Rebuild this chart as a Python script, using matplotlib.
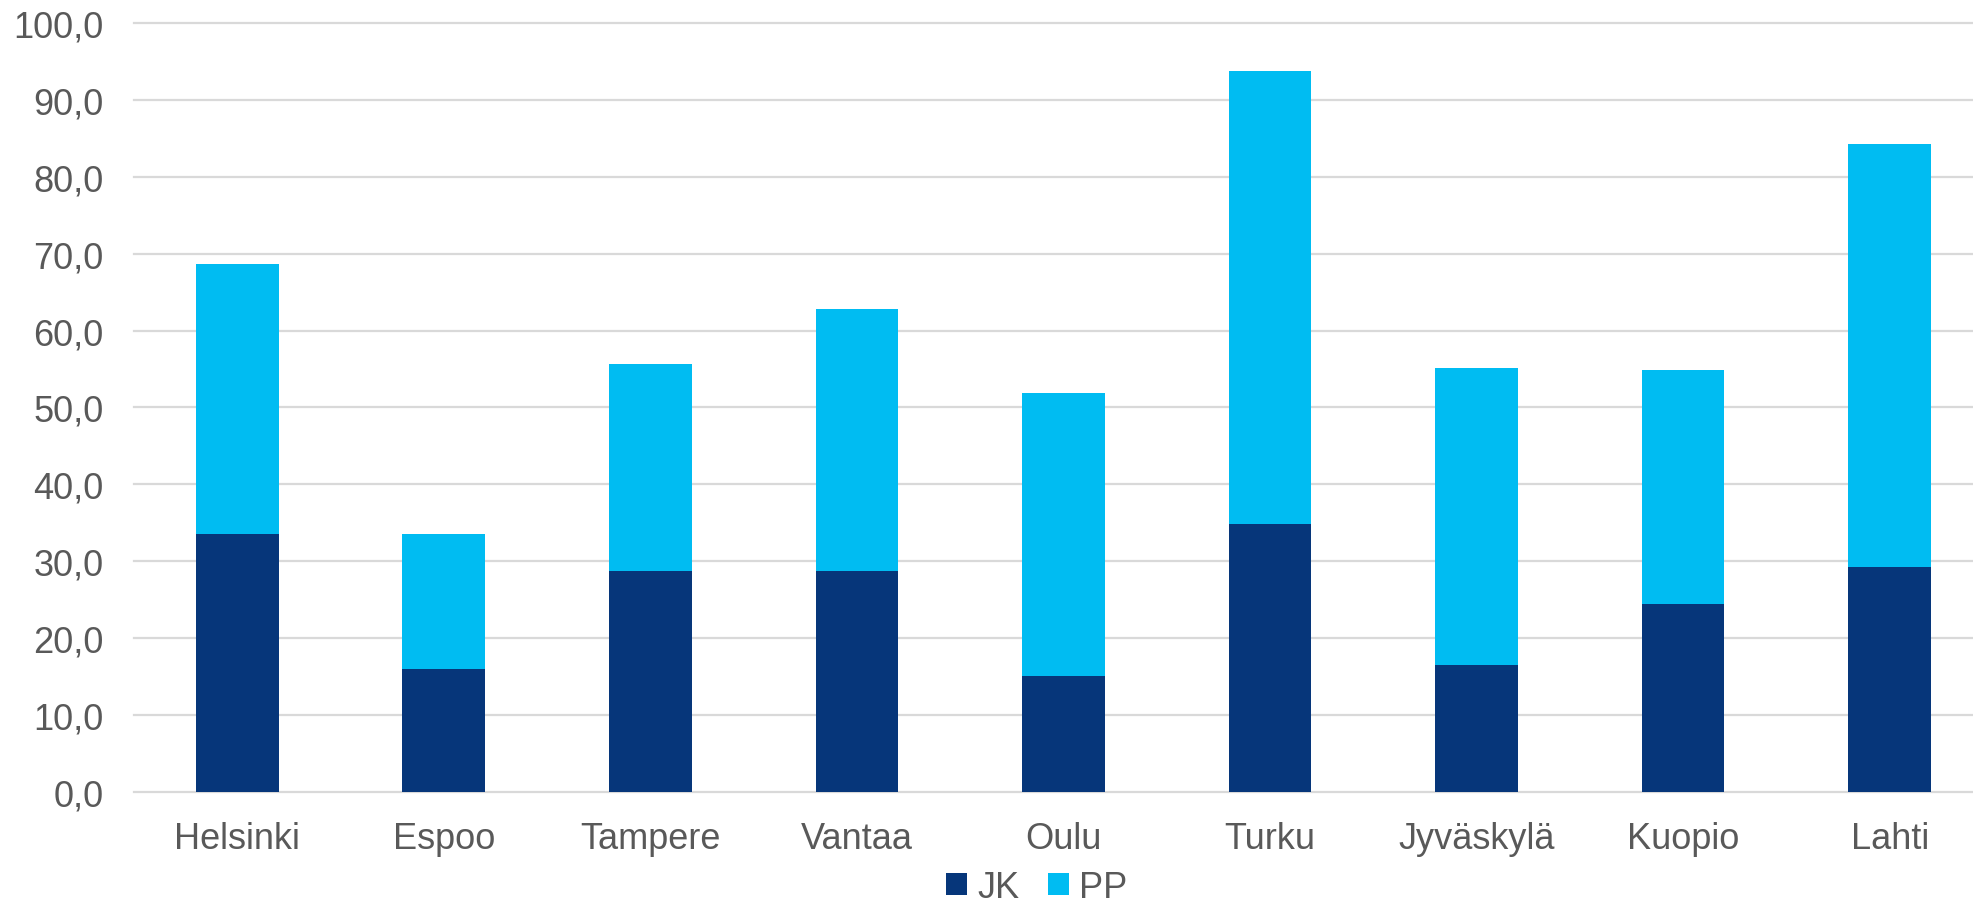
import matplotlib
matplotlib.use("Agg")
import matplotlib.pyplot as plt
from matplotlib.patches import Patch
from matplotlib.ticker import FuncFormatter, MultipleLocator

categories = ["Helsinki", "Espoo", "Tampere", "Vantaa", "Oulu", "Turku", "Jyväskylä", "Kuopio", "Lahti"]
jk = [33.6, 16.0, 28.7, 28.8, 15.1, 34.8, 16.5, 24.5, 29.2]
pp = [35.1, 17.6, 27.0, 34.0, 36.8, 59.0, 38.6, 30.4, 55.0]
series_names = ["JK", "PP"]

plt.rcParams['font.family'] = ['Liberation Sans', 'DejaVu Sans']

JK_COLOR = "#06367A"
PP_COLOR = "#00BCF2"
TEXT_COLOR = "#595959"
GRID_COLOR = "#D9D9D9"
FS = 26

fig = plt.figure(figsize=(19.73, 9.04), dpi=100)
ax = fig.add_axes([0.0679, 0.1228, 0.9422, 0.8507])

x = list(range(len(categories)))
ax.bar(x, jk, width=0.4, color=JK_COLOR, zorder=3)
ax.bar(x, pp, width=0.4, bottom=jk, color=PP_COLOR, zorder=3)

ax.set_xlim(-0.5, len(categories) - 0.5)
ax.set_ylim(0, 100)
ax.yaxis.set_major_locator(MultipleLocator(10))
ax.yaxis.set_major_formatter(FuncFormatter(lambda v, p: f"{v:.1f}".replace(".", ",")))
ax.set_xticks(x)
ax.set_xticklabels(categories)

ax.set_axisbelow(True)
ax.grid(axis="y", color=GRID_COLOR, linewidth=1.6)
for ln in ax.get_ygridlines():
    ln.set_clip_on(False)

for s in ax.spines.values():
    s.set_visible(False)

ax.tick_params(axis="y", length=0, pad=22, labelsize=FS, labelcolor=TEXT_COLOR)
ax.tick_params(axis="x", length=0, pad=21, labelsize=FS, labelcolor=TEXT_COLOR)

handles = [Patch(facecolor=JK_COLOR, label=series_names[0]),
           Patch(facecolor=PP_COLOR, label=series_names[1])]
leg = fig.legend(handles=handles, loc="center", bbox_to_anchor=(0.5256, 0.017),
                 ncol=2, frameon=False, fontsize=FS, handlelength=0.56, handleheight=0.56,
                 handletextpad=0.3, columnspacing=0.8, borderpad=0, borderaxespad=0)
for t in leg.get_texts():
    t.set_color(TEXT_COLOR)

fig.savefig("out.png", dpi=100)
